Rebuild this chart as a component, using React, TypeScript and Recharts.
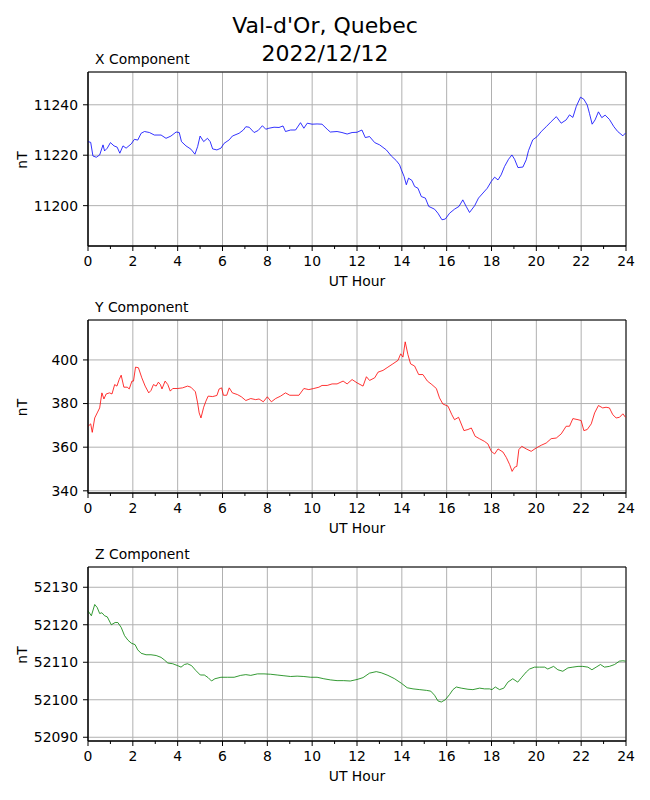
import React from 'react';
import { LineChart, Line, XAxis, YAxis, CartesianGrid, ReferenceArea } from 'recharts';

// [UT hour, nT]
const xComponent: [number, number][] = [
  [0, 11225.4], [0.12, 11225.1], [0.22, 11219.7], [0.37, 11219.2], [0.52, 11220.1], [0.67, 11224.1], [0.74, 11221.7],
  [0.86, 11222.8], [1.0, 11225.0], [1.16, 11223.7], [1.3, 11223.2], [1.42, 11220.8], [1.56, 11223.7], [1.7, 11222.8],
  [1.93, 11224.5], [2.07, 11226.3], [2.22, 11226.0], [2.37, 11228.7], [2.52, 11229.4], [2.74, 11229.0], [2.96, 11228.0],
  [3.26, 11228.0], [3.48, 11226.7], [3.7, 11227.6], [3.93, 11229.2], [4.07, 11229.0], [4.17, 11225.4], [4.37, 11223.7],
  [4.59, 11222.4], [4.77, 11220.4], [4.89, 11223.4], [5.0, 11227.6], [5.16, 11225.4], [5.33, 11226.7], [5.45, 11225.4],
  [5.56, 11222.5], [5.75, 11222.1], [5.93, 11222.8], [6.07, 11224.7], [6.3, 11226.1], [6.44, 11227.6], [6.74, 11228.7],
  [6.93, 11230.0], [7.04, 11231.3], [7.19, 11231.1], [7.41, 11229.0], [7.59, 11229.8], [7.78, 11231.7], [7.93, 11230.3],
  [8.07, 11230.7], [8.3, 11231.1], [8.52, 11231.0], [8.7, 11231.6], [8.81, 11229.4], [9.04, 11230.0], [9.26, 11230.0],
  [9.48, 11232.9], [9.63, 11230.7], [9.78, 11232.7], [10.0, 11232.3], [10.22, 11232.4], [10.44, 11232.3], [10.67, 11230.3],
  [10.81, 11229.2], [11.11, 11229.4], [11.33, 11229.0], [11.56, 11228.4], [11.78, 11229.0], [12.0, 11229.1], [12.22, 11230.0],
  [12.37, 11227.0], [12.56, 11227.4], [12.79, 11225.0], [13.01, 11224.1], [13.31, 11222.1], [13.53, 11219.7], [13.75, 11217.9],
  [13.9, 11216.2], [13.98, 11214.2], [14.1, 11211.6], [14.2, 11208.3], [14.3, 11210.9], [14.45, 11210.0], [14.57, 11207.6],
  [14.72, 11206.9], [14.87, 11203.6], [15.05, 11203.0], [15.2, 11199.7], [15.46, 11198.6], [15.61, 11197.0], [15.79, 11194.4],
  [15.94, 11194.7], [16.13, 11197.0], [16.35, 11198.6], [16.55, 11199.7], [16.72, 11202.3], [16.87, 11199.7], [17.02, 11197.3],
  [17.25, 11200.0], [17.42, 11203.0], [17.62, 11205.0], [17.81, 11206.9], [17.99, 11209.6], [18.14, 11211.3], [18.29, 11210.2],
  [18.43, 11212.2], [18.58, 11215.5], [18.76, 11218.4], [18.91, 11220.1], [19.03, 11218.4], [19.18, 11215.1], [19.4, 11215.3],
  [19.55, 11218.2], [19.65, 11221.8], [19.84, 11226.1], [20.04, 11227.4], [20.22, 11229.4], [20.44, 11231.3], [20.66, 11233.3],
  [20.89, 11235.3], [21.11, 11232.7], [21.33, 11234.0], [21.48, 11236.0], [21.63, 11235.0], [21.78, 11239.3], [21.97, 11243.0],
  [22.12, 11242.2], [22.27, 11239.9], [22.37, 11236.6], [22.49, 11232.3], [22.62, 11234.0], [22.77, 11237.2], [22.92, 11234.9],
  [23.07, 11235.9], [23.26, 11234.2], [23.46, 11231.3], [23.63, 11229.4], [23.86, 11227.7], [23.98, 11228.8],
];

const yComponent: [number, number][] = [
  [0, 369.5], [0.12, 370.7], [0.19, 366.8], [0.3, 373.4], [0.41, 375.7], [0.52, 378.0], [0.62, 384.9], [0.71, 382.1],
  [0.81, 384.4], [0.96, 384.9], [1.07, 384.4], [1.19, 388.7], [1.29, 388.0], [1.39, 391.0], [1.48, 393.0], [1.6, 387.5],
  [1.75, 387.5], [1.84, 386.7], [1.96, 390.3], [2.03, 390.3], [2.12, 396.7], [2.25, 396.4], [2.4, 391.8], [2.55, 388.0],
  [2.71, 384.9], [2.81, 386.0], [2.92, 388.7], [3.04, 388.0], [3.14, 389.8], [3.23, 388.7], [3.3, 386.7], [3.44, 390.3],
  [3.56, 388.7], [3.67, 385.7], [3.78, 386.9], [4.0, 386.9], [4.22, 387.2], [4.44, 388.0], [4.59, 387.5], [4.79, 385.4],
  [4.89, 380.3], [4.96, 375.7], [5.04, 373.4], [5.16, 378.3], [5.26, 381.1], [5.36, 383.4], [5.56, 383.2], [5.75, 383.7],
  [5.85, 386.7], [5.96, 387.2], [6.04, 383.8], [6.19, 383.8], [6.3, 387.2], [6.44, 384.9], [6.67, 384.1], [6.84, 383.1],
  [7.04, 381.4], [7.26, 382.3], [7.48, 381.8], [7.63, 382.1], [7.82, 380.8], [8.0, 383.1], [8.18, 380.8], [8.37, 382.3],
  [8.59, 383.4], [8.81, 384.9], [9.0, 383.8], [9.19, 383.8], [9.41, 383.8], [9.63, 386.9], [9.85, 386.4], [10.07, 386.9],
  [10.3, 387.5], [10.44, 388.3], [10.67, 388.3], [10.89, 389.0], [11.11, 389.0], [11.38, 390.3], [11.56, 389.0], [11.78, 391.0],
  [12.0, 389.5], [12.27, 388.0], [12.42, 392.3], [12.56, 390.6], [12.79, 391.8], [12.94, 394.4], [13.16, 395.2], [13.38, 396.7],
  [13.6, 398.2], [13.83, 399.8], [13.95, 402.8], [14.05, 401.3], [14.15, 408.3], [14.27, 402.5], [14.39, 398.2], [14.57, 397.2],
  [14.75, 393.3], [14.94, 393.3], [15.14, 390.3], [15.34, 388.7], [15.54, 386.9], [15.68, 382.6], [15.83, 379.8], [16.06, 378.8],
  [16.23, 374.9], [16.35, 372.6], [16.53, 373.7], [16.77, 367.6], [16.95, 368.1], [17.1, 368.8], [17.27, 365.0], [17.46, 363.9],
  [17.68, 362.7], [17.84, 361.5], [17.99, 358.1], [18.14, 356.9], [18.29, 359.2], [18.51, 357.8], [18.66, 355.3], [18.81, 352.0],
  [18.92, 348.9], [19.03, 350.8], [19.13, 351.2], [19.22, 358.9], [19.35, 360.4], [19.55, 359.2], [19.77, 358.1], [19.99, 359.6],
  [20.22, 360.9], [20.44, 361.9], [20.66, 363.9], [20.89, 364.2], [21.11, 366.1], [21.33, 369.6], [21.48, 369.6], [21.63, 373.1],
  [21.86, 372.6], [22.0, 372.2], [22.12, 367.6], [22.27, 368.1], [22.45, 370.7], [22.6, 375.7], [22.77, 379.1], [22.96, 378.0],
  [23.11, 378.3], [23.26, 378.0], [23.41, 374.9], [23.56, 373.4], [23.71, 373.7], [23.86, 375.3], [23.98, 373.7],
];

const zComponent: [number, number][] = [
  [0, 52123.7], [0.15, 52122.4], [0.3, 52125.4], [0.41, 52124.6], [0.52, 52123.0], [0.62, 52123.2], [0.74, 52122.4],
  [0.86, 52122.1], [1.04, 52120.0], [1.21, 52120.6], [1.33, 52120.6], [1.48, 52119.3], [1.63, 52117.1], [1.78, 52115.9],
  [1.93, 52115.1], [2.1, 52114.7], [2.22, 52113.3], [2.37, 52112.4], [2.59, 52112.0], [2.81, 52112.0], [3.04, 52111.8],
  [3.26, 52111.3], [3.41, 52110.6], [3.56, 52109.8], [3.78, 52109.6], [4.0, 52109.1], [4.15, 52108.7], [4.3, 52109.4],
  [4.44, 52109.6], [4.62, 52109.1], [4.81, 52107.8], [5.01, 52106.6], [5.19, 52106.6], [5.36, 52105.9], [5.51, 52105.0],
  [5.66, 52105.6], [5.93, 52106.0], [6.22, 52106.0], [6.52, 52106.0], [6.81, 52106.5], [7.04, 52106.7], [7.26, 52106.5],
  [7.56, 52106.9], [7.85, 52106.9], [8.15, 52106.8], [8.44, 52106.6], [8.74, 52106.4], [9.04, 52106.2], [9.33, 52106.3],
  [9.63, 52106.2], [9.93, 52106.0], [10.22, 52106.0], [10.52, 52105.6], [10.81, 52105.3], [11.11, 52105.1], [11.41, 52105.1],
  [11.7, 52105.0], [12.0, 52105.4], [12.27, 52105.9], [12.56, 52107.1], [12.86, 52107.5], [13.08, 52107.2], [13.38, 52106.5],
  [13.68, 52105.6], [13.98, 52104.4], [14.24, 52103.2], [14.5, 52102.9], [14.8, 52102.7], [15.1, 52102.5], [15.29, 52102.3],
  [15.46, 52101.2], [15.61, 52099.7], [15.76, 52099.4], [15.94, 52100.0], [16.13, 52101.4], [16.28, 52102.7], [16.43, 52103.4],
  [16.65, 52103.1], [16.95, 52102.8], [17.17, 52102.7], [17.47, 52103.1], [17.69, 52102.9], [17.91, 52102.9], [18.02, 52102.7],
  [18.17, 52103.4], [18.36, 52102.7], [18.55, 52103.1], [18.73, 52104.7], [18.95, 52105.6], [19.17, 52104.7], [19.35, 52106.0],
  [19.55, 52107.4], [19.7, 52108.2], [19.92, 52108.7], [20.14, 52108.7], [20.37, 52108.7], [20.51, 52108.2], [20.77, 52108.9],
  [20.96, 52108.0], [21.18, 52107.6], [21.41, 52108.5], [21.63, 52108.7], [21.86, 52108.9], [22.07, 52108.9], [22.3, 52108.7],
  [22.48, 52108.0], [22.67, 52108.7], [22.86, 52109.4], [23.04, 52108.7], [23.26, 52108.9], [23.49, 52109.4], [23.71, 52110.3],
  [23.86, 52110.4], [23.98, 52110.3],
];

const hourTicks = Array.from({ length: 25 }, (_, i) => i);
const gridHours = [0, 2, 4, 6, 8, 10, 12, 14, 16, 18, 20, 22, 24];

const xTicks = [11200, 11220, 11240];
const yTicks = [340, 360, 380, 400];
const zTicks = [52090, 52100, 52110, 52120, 52130];

const FONT = 'DejaVu Sans, sans-serif';
const FS = 13.9;

const HourTick = (props: any) => {
  const { x, y, payload } = props;
  const major = payload.value % 2 === 0;
  return (
    <g>
      <line x1={x} x2={x} y1={y} y2={y + (major ? 5 : 3)} stroke="#000" strokeWidth={1} />
      {major && (
        <text x={x} y={y + 10} dy="0.71em" textAnchor="middle" fontSize={FS} fill="#000" fontFamily={FONT}>
          {payload.value}
        </text>
      )}
    </g>
  );
};

interface PanelProps {
  top: number;
  plotH: number;
  series: [number, number][];
  color: string;
  domain: [number, number];
  ticks: number[];
}

const Panel: React.FC<PanelProps> = ({ top, plotH, series, color, domain, ticks }) => {
  const data = series.map(([h, v]) => ({ h, v }));
  return (
    <div style={{ position: 'absolute', left: 0, top: top - 10 }}>
      <LineChart width={650} height={plotH + 54} data={data} margin={{ top: 10, right: 24, bottom: 0, left: 0 }}>
        <CartesianGrid stroke="#b0b0b0" strokeWidth={1} verticalValues={gridHours} />
        <XAxis
          dataKey="h"
          type="number"
          domain={[0, 24]}
          ticks={hourTicks}
          interval={0}
          height={44}
          tickLine={false}
          tickSize={0}
          tickMargin={0}
          axisLine={{ stroke: '#000' }}
          tick={<HourTick />}
        />
        <YAxis
          type="number"
          domain={domain}
          ticks={ticks}
          interval={0}
          width={88}
          tickSize={5}
          tickMargin={5}
          tickLine={{ stroke: '#000' }}
          axisLine={{ stroke: '#000' }}
          tick={{ fill: '#000', fontSize: FS, fontFamily: FONT }}
        />
        <ReferenceArea x1={0} x2={24} y1={domain[0]} y2={domain[1]} fill="none" stroke="#000" strokeWidth={1} />
        <Line type="linear" dataKey="v" stroke={color} strokeWidth={0.8} dot={false} isAnimationActive={false} />
      </LineChart>
    </div>
  );
};

const panels = [
  { title: 'X Component', top: 72, plotH: 174, series: xComponent, color: '#0000ff', domain: [11184, 11253] as [number, number], ticks: xTicks },
  { title: 'Y Component', top: 320, plotH: 173, series: yComponent, color: '#ff0000', domain: [339, 418.3] as [number, number], ticks: yTicks },
  { title: 'Z Component', top: 567, plotH: 174, series: zComponent, color: '#008000', domain: [52089, 52135.4] as [number, number], ticks: zTicks },
];

export default function App() {
  return (
    <div style={{ position: 'absolute', left: 0, top: 0, width: 650, height: 800, background: '#fff', fontFamily: FONT }}>
      {panels.map((p) => (
        <Panel key={p.title} top={p.top} plotH={p.plotH} series={p.series} color={p.color} domain={p.domain} ticks={p.ticks} />
      ))}
      <svg width={650} height={800} style={{ position: 'absolute', left: 0, top: 0, pointerEvents: 'none' }} fontFamily={FONT}>
        <text x={325} y={33} textAnchor="middle" fontSize={22}>Val-d'Or, Quebec</text>
        <text x={325} y={61} textAnchor="middle" fontSize={22}>2022/12/12</text>
        {panels.map((p) => {
          const mid = p.top + p.plotH / 2 + 1;
          const bottom = p.top + p.plotH;
          return (
            <g key={p.title}>
              <text x={95} y={p.top - 8} fontSize={FS}>{p.title}</text>
              <text x={357} y={bottom + 39.5} textAnchor="middle" fontSize={FS}>UT Hour</text>
              <text x={27} y={mid} textAnchor="middle" fontSize={FS} transform={`rotate(-90, 27, ${mid})`}>nT</text>
            </g>
          );
        })}
      </svg>
    </div>
  );
}
